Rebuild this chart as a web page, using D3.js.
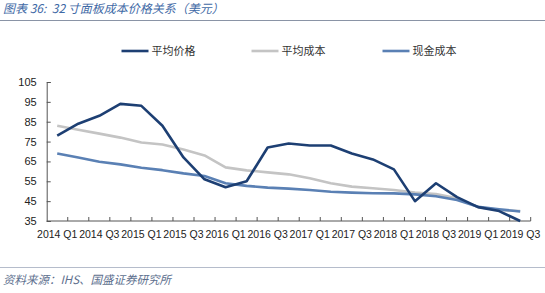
<!DOCTYPE html>
<html>
<head>
<meta charset="utf-8">
<script src="https://cdn.jsdelivr.net/npm/d3@7"></script>
<style>
  body { margin: 0; background: #fff; }
  svg { display: block; }
</style>
</head>
<body>
<div id="chart"></div>
<script>
// quarters 2014 Q1 .. 2019 Q3
const quarters = [
  "2014 Q1", "2014 Q2", "2014 Q3", "2014 Q4",
  "2015 Q1", "2015 Q2", "2015 Q3", "2015 Q4",
  "2016 Q1", "2016 Q2", "2016 Q3", "2016 Q4",
  "2017 Q1", "2017 Q2", "2017 Q3", "2017 Q4",
  "2018 Q1", "2018 Q2", "2018 Q3", "2018 Q4",
  "2019 Q1", "2019 Q2", "2019 Q3"
];
const avgPrice = [78, 84, 88, 94, 93, 83, 67, 56, 52, 55, 72, 74, 73, 73, 69, 66, 61, 45, 54, 47, 42, 40, 35];
const avgCost  = [83, 81, 79, 77, 74.5, 73.5, 71, 68, 62, 60.5, 59.5, 58.5, 56.5, 54, 52.3, 51.5, 50.6, 49.3, 48.6, 46.4, 42, 40.5, 40];
const cashCost = [69, 67, 64.8, 63.5, 61.8, 60.6, 59, 57.7, 54, 52.7, 51.8, 51.3, 50.6, 49.7, 49.3, 49, 48.9, 48.4, 47.5, 45.6, 42.2, 40.9, 39.8];
const yTicks = [35, 45, 55, 65, 75, 85, 95, 105];

const series = [
  { name: "平均价格", values: avgPrice, color: "#1d3f73" },
  { name: "平均成本", values: avgCost, color: "#c4c4c4" },
  { name: "现金成本", values: cashCost, color: "#5a80b4" }
];

const width = 545, height = 293;
const margin = { left: 46.7, right: 14.3, top: 82, bottom: 72 };

const svg = d3.select("#chart").append("svg")
  .attr("width", width).attr("height", height);

svg.append("rect").attr("width", width).attr("height", height).attr("fill", "#fff");

// title + rules
svg.append("text")
  .attr("x", 3).attr("y", 13)
  .attr("fill", "#3f6aa6")
  .style("font-family", "'Noto Sans CJK SC', sans-serif")
  .style("font-size", "12px")
  .style("font-style", "italic")
  .style("white-space", "pre")
  .text("图表 36:  32 寸面板成本价格关系（美元）");
svg.append("line").attr("x1", 0).attr("x2", width).attr("y1", 20.5).attr("y2", 20.5)
  .attr("stroke", "#8a94a6").attr("stroke-width", 1.2);
svg.append("line").attr("x1", 0).attr("x2", width).attr("y1", 267.5).attr("y2", 267.5)
  .attr("stroke", "#b5bccb").attr("stroke-width", 1);
svg.append("text")
  .attr("x", 3).attr("y", 284)
  .attr("fill", "#5d6f8e")
  .style("font-family", "'Noto Sans CJK SC', sans-serif")
  .style("font-size", "11.5px")
  .style("font-style", "italic")
  .text("资料来源：IHS、国盛证券研究所");

const x = d3.scaleBand()
  .domain(quarters)
  .range([margin.left, width - margin.right]);

const y = d3.scaleLinear()
  .domain([35, 105])
  .range([height - margin.bottom, margin.top]);

// y axis
const yAxis = svg.append("g")
  .attr("transform", `translate(${margin.left},0)`)
  .call(d3.axisLeft(y).tickValues(yTicks).tickSize(-4).tickPadding(10));
yAxis.select(".domain").attr("stroke", "#555");
yAxis.selectAll(".tick line").attr("stroke", "#555");
yAxis.selectAll("text")
  .attr("fill", "#222")
  .style("font-family", "'Liberation Sans', Arial, sans-serif")
  .style("font-size", "11px");

// x axis: ticks at band edges, labels every other quarter
const xg = svg.append("g")
  .attr("transform", `translate(0,${height - margin.bottom})`);
xg.append("line")
  .attr("x1", margin.left).attr("x2", width - margin.right)
  .attr("stroke", "#555");
const edges = quarters.map(q => x(q)).concat([x(quarters[quarters.length - 1]) + x.bandwidth()]);
xg.selectAll("line.tk").data(edges.slice(1)).join("line")
  .attr("class", "tk")
  .attr("x1", d => d).attr("x2", d => d)
  .attr("y1", 0).attr("y2", -4)
  .attr("stroke", "#555");
xg.selectAll("text").data(quarters.filter((q, i) => i % 2 === 0)).join("text")
  .attr("x", d => x(d) + x.bandwidth() / 2)
  .attr("y", 17)
  .attr("text-anchor", "middle")
  .attr("fill", "#222")
  .style("font-family", "'Liberation Sans', Arial, sans-serif")
  .style("font-size", "10.5px")
  .text(d => d);

// lines
const line = d3.line()
  .x((d, i) => x(quarters[i]) + x.bandwidth() / 2)
  .y(d => y(d));

// draw order: grey, cash, price on top
[series[1], series[2], series[0]].forEach(s => {
  svg.append("path")
    .datum(s.values)
    .attr("fill", "none")
    .attr("stroke", s.color)
    .attr("stroke-width", 2.6)
    .attr("stroke-linejoin", "round")
    .attr("d", line);
});

// legend
const legendX = [121.5, 251.5, 382.5];
const legend = svg.append("g").selectAll("g").data(series).join("g")
  .attr("transform", (d, i) => `translate(${legendX[i]},51)`);
legend.append("line")
  .attr("x1", 0).attr("x2", 27)
  .attr("stroke", d => d.color).attr("stroke-width", 2.6);
legend.append("text")
  .attr("x", 30).attr("y", 0).attr("dy", "0.35em")
  .attr("fill", "#333")
  .style("font-family", "'Noto Sans CJK SC', sans-serif")
  .style("font-size", "11px")
  .text(d => d.name);
</script>
</body>
</html>
